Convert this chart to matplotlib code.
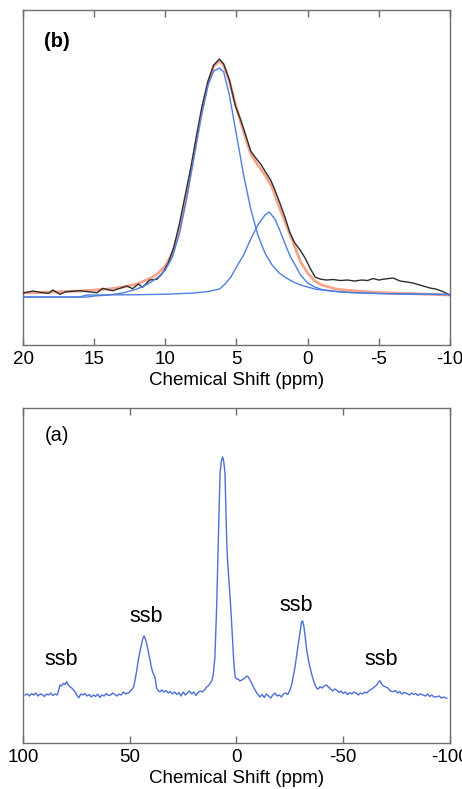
"""Espectros de desplazamiento quimico: (b) region central ajustada, (a) espectro completo con ssb."""

import matplotlib

matplotlib.use("Agg")
import matplotlib.pyplot as plt  # noqa: E402

plt.rcParams["font.family"] = ["Liberation Sans", "DejaVu Sans"]
plt.rcParams["axes.unicode_minus"] = False

# ---- panel (b): datos experimentales (negro) ----
ppm_exp = [20.0, 19.3, 18.7, 18.2, 17.9, 17.4, 17.0, 16.0, 14.8, 14.4, 13.7,
           12.7, 12.3, 11.9, 11.6, 11.1, 10.6, 10.2, 9.8, 9.4, 9.0, 8.6, 8.2,
           7.8, 7.4, 7.0, 6.6, 6.2, 5.9, 5.5, 5.1, 4.7, 4.4, 4.0, 3.7, 3.3,
           3.0, 2.6, 2.3, 1.9, 1.6, 1.24, 0.9, 0.53, 0.18, -0.17, -0.52,
           -0.87, -1.3, -1.8, -2.3, -2.8, -3.3, -3.8, -4.2, -4.6, -5.0, -5.4,
           -6.0, -6.5, -7.0, -7.4, -8.0, -8.6, -9.0, -9.5, -10.0]
int_exp = [2, 4, 2.5, 1.7, 5, 0.7, 3.3, 4.3, 2.3, 6.7, 4.3,
           9, 6.3, 11, 7.7, 15, 15.7, 21.7, 32, 48, 72, 100, 128,
           160, 190, 214, 230, 236, 231, 215, 190, 175, 162, 144, 138, 131,
           124, 115, 105, 90, 78, 62, 52, 45, 37, 27, 18,
           16, 15, 15.5, 14.5, 15, 14, 15, 14.5, 16.5, 15, 16,
           17, 14, 13, 12, 9.5, 7, 6, 3.5, 0]

# ---- panel (b): ajuste total (naranja) ----
ppm_fit = [20, 19, 18, 17, 16, 15, 14, 13, 12, 11.5, 11, 10.5, 10, 9.5, 9,
           8.5, 8, 7.5, 7, 6.6, 6.2, 5.9, 5.5, 5.0, 4.5, 4.0, 3.5, 3.0, 2.5,
           2.0, 1.5, 1.0, 0.5, 0, -0.5, -1, -1.5, -2, -3, -4, -5, -6, -7, -8,
           -9, -10]
int_fit = [2, 2.5, 3, 3.5, 4, 5, 6, 8, 11, 14, 17, 22, 29, 42, 66,
           100, 140, 180, 212, 229, 234, 230, 214, 187, 163, 141, 130, 120, 108,
           88, 70, 52, 33, 22, 14, 10, 8, 6, 4.5, 3.5, 2.5, 2, 1.5, 1,
           0.5, 0]

# ---- panel (b): componentes (azul) ----
ppm_c1 = [20, 18, 16, 15.5, 15, 14, 13, 12, 11.5, 11, 10.5, 10, 9.5, 9, 8.5,
          8, 7.5, 7, 6.6, 6.2, 5.9, 5.5, 5, 4.5, 4, 3.5, 3, 2.5, 2, 1.5, 1,
          0.5, 0, -0.5, -1, -2, -3, -5, -7, -10]
int_c1 = [-2, -2, -2, -2, -1, 0, 2, 6, 9, 13, 18, 25, 38, 62, 97,
          137, 177, 210, 224, 227, 223, 200, 160, 120, 86, 60, 42, 30, 22, 17, 13,
          10, 8, 6, 5, 3.5, 2.5, 1.5, 1, 0.5]

ppm_c2 = [20, 16, 15.8, 15.5, 12, 10, 8, 7, 6.2, 5.8, 5.4, 5.0, 4.5, 4.0, 3.5,
          3.0, 2.7, 2.3, 2.0, 1.5, 1.2, 0.8, 0.5, 0, -0.5, -1, -2, -3, -5, -7,
          -10]
int_c2 = [-2, -2, -1, 0, 0.3, 0.8, 2, 3.5, 6, 11, 18, 28, 40, 56, 70,
          80, 83, 76, 66, 48, 38, 28, 20, 12, 8, 5.5, 3.5, 2.5, 1.5, 1,
          0.5]

# ---- panel (a): espectro completo ----
ppm_full = [99, 98, 97, 96, 95, 94, 93, 92, 91, 90, 89, 88, 87, 86, 85, 84,
            83.5, 82.7, 82, 81.1, 80.3, 79.5, 78.8, 78, 77.2, 76.4, 75.5, 74.6,
            73.8, 73, 72, 71, 70, 69, 68, 67, 66, 65, 64, 63, 62, 61, 60, 59,
            58, 57, 56, 55, 54, 53, 52, 51.4, 50.5, 49.8, 49.1, 48.2, 47.5,
            46.7, 46, 45.2, 44.4, 43.8, 43.3, 42.7, 42.1, 41.3, 40.5, 39.9,
            39.3, 38.7, 38.2, 37.8, 37.4, 36.6, 35.8, 35, 34, 33, 32, 31, 30,
            29, 28, 27, 26, 25, 24, 23, 22, 21, 20, 19, 18, 17, 16, 15, 14,
            13.2, 12.4, 11.6, 10.9, 10.1, 9.3, 8.5, 7.7, 7.1, 6.5, 6.0, 5.4,
            5.0, 4.6, 4.2, 3.8, 3.4, 3.0, 2.6, 2.2, 1.8, 1.4, 1.0, 0.6, 0,
            -0.8, -1.6, -2.4, -3.2, -4.0, -4.8, -5.5, -6.3, -7.1, -7.9, -8.7,
            -9.5, -10.3, -11, -12, -13, -14, -15, -16, -17, -18, -19, -20,
            -21, -22, -23, -24, -25.1, -26, -26.7, -27.4, -28.2, -29.0, -29.8,
            -30.5, -31.0, -31.6, -32.2, -32.9, -33.6, -34.4, -35.2, -36.0,
            -36.8, -37.6, -38.3, -39.1, -40, -41, -42.2, -43, -43.8, -45, -46,
            -46.9, -48, -49, -50, -51, -52, -53, -54, -55, -56.3, -57, -58,
            -59, -60, -61, -62.5, -63.5, -64.5, -65.7, -66.5, -67.2, -68,
            -68.8, -70, -71.1, -72, -73.4, -74.5, -75.5, -76.5, -77.5, -78.5,
            -79.7, -81, -82, -83, -84, -85, -86, -87.5, -88.5, -89.5, -90.5,
            -91.5, -92.5, -93.8, -95, -96, -97, -98.5]
int_full = [0, 1, -1, 1.5, 0, 2, -1, 1, 0.5, -1.5, 1, 0, 2, -0.5, 1, 0,
            3, 10, 9, 11.7, 10.5, 13.3, 10, 8.3, 7, 5, 3, -1,
            -2.7, 1, 0, 1.5, -1, 0.5, -2, 0, -1.5, 1, -2.5, 0, -1, 1.5, -0.5, 0,
            2, 0.5, -1, 1, 0, 3, 1, 1.7, 2, 4, 5, 8, 15,
            25, 35, 44, 51.7, 57, 59, 56, 51.7, 43, 35, 28,
            23, 20, 18, 12, 6.7, 4, 3.3, 5, 3, 4.5, 2, 3.5, 1,
            3, 0.5, 2.5, -1, 3, 0, 2, 4, 1, 3, -0.5, 2.5, 4, 3, 5, 8,
            9, 11.7, 14, 20, 38, 88, 155, 222, 234, 238, 234, 222,
            190, 155, 135, 122, 110, 98, 84, 68, 52, 38, 26, 18, 16,
            16, 14, 15, 16, 17, 19, 18, 15, 12, 8, 5,
            2, 0, -2, 0.5, -2.5, 1, -1, -3, 0, 2, -1, 0,
            -2, 1, 2, 0.5, 5, 12, 20, 28, 40, 51.7, 63,
            73.3, 74, 68, 57, 45, 36, 28, 21, 15,
            10, 6.7, 6, 8.3, 7, 9, 10, 8, 6.7, 4, 6,
            5, 2.5, 4, 1.7, 3, 0.5, 2.5, 1, 3, 1.7, 0, 2,
            1, 3, 2, 5, 6, 8, 10, 13, 14.3, 11,
            9, 8, 6.7, 4, 3.3, 4.5, 2, 3.5, 1, 2.5,
            1.7, 0, 2, 0.5, 1.5, -0.5, 1, 0, -1, 1, -1.5,
            0, -2, -1.7, -1, -3, -2, -3.3]

ssb_ppm = [82.2, 42.1, -27.9, -67.7]
ssb_height = [35, 78, 89, 35]

C_EXP = "#2e2e2e"
C_FIT = "#f7a58a"
C_COMP = "#4f7fe0"
C_FULL = "#4d6fd6"
C_FRAME = "#6e6e6e"


def style_axes(ax):
    for sp in ax.spines.values():
        sp.set_color(C_FRAME)
        sp.set_linewidth(1.0)
    ax.set_yticks([])
    ax.tick_params(axis="x", direction="in", top=True, bottom=True,
                   length=5, width=1, color=C_FRAME, labelsize=13.5, pad=4)
    ax.set_xlabel("Chemical Shift (ppm)", fontsize=13.5, labelpad=3)


fig = plt.figure(figsize=(4.62, 7.89), dpi=100)
ax_b = fig.add_axes([0.0498, 0.5627, 0.9242, 0.4246])
ax_a = fig.add_axes([0.0498, 0.0583, 0.9242, 0.4246])

# (b) region central
ax_b.plot(ppm_fit, int_fit, color=C_FIT, lw=2.0, zorder=2)
ax_b.plot(ppm_exp, int_exp, color=C_EXP, lw=1.0, zorder=3)
ax_b.plot(ppm_c1, int_c1, color=C_COMP, lw=1.0, zorder=4)
ax_b.plot(ppm_c2, int_c2, color=C_COMP, lw=1.0, zorder=4)
ax_b.set_xlim(20, -10)
ax_b.set_ylim(-50, 285)
ax_b.set_xticks([20, 15, 10, 5, 0, -5, -10])
style_axes(ax_b)
ax_b.text(0.08, 0.907, "(b)", transform=ax_b.transAxes, fontsize=14.5,
          fontweight="bold", ha="center", va="center")

# (a) espectro completo
ax_a.plot(ppm_full, int_full, color=C_FULL, lw=1.0)
ax_a.set_xlim(100, -100)
ax_a.set_ylim(-48, 287)
ax_a.set_xticks([100, 50, 0, -50, -100])
style_axes(ax_a)
ax_a.text(0.08, 0.919, "(a)", transform=ax_a.transAxes, fontsize=14.5,
          ha="center", va="center")
for x, y in zip(ssb_ppm, ssb_height):
    ax_a.text(x, y, "ssb", fontsize=15.5, ha="center", va="center")

fig.savefig("out.png", dpi=100)
